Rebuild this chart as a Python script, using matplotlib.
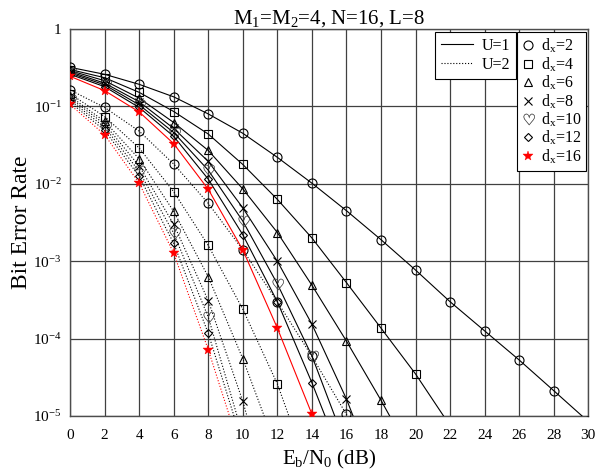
# -*- coding: utf-8 -*-
"""
BER vs Eb/N0 (M1=M2=4, N=16, L=8)
"""
import numpy as np
import matplotlib
matplotlib.use("Agg")
import matplotlib.pyplot as plt
from matplotlib.lines import Line2D
from matplotlib.path import Path
from matplotlib.textpath import TextPath
from matplotlib.font_manager import FontProperties
from matplotlib.ticker import FixedLocator, FuncFormatter

plt.rcParams['font.family'] = ['Liberation Serif', 'DejaVu Serif']
plt.rcParams['mathtext.fontset'] = 'custom'
plt.rcParams['mathtext.rm'] = 'Liberation Serif'
plt.rcParams['mathtext.it'] = 'Liberation Serif:italic'

###################################
# data
###################################
snr_db = [0, 2, 4, 6, 8, 10, 12, 14, 16, 18, 20, 22, 24, 26, 28, 30]
dx_list = [2, 4, 6, 8, 10, 12, 16]

# U=1 (solid)
u1_dx2 = [0.32, 0.26, 0.193, 0.133, 0.080, 0.045, 0.022, 0.0102, 4.5e-3, 1.9e-3,
          7.7e-4, 3.0e-4, 1.26e-4, 5.3e-5, 2.13e-5, 8.5e-6]
u1_dx4 = [0.30, 0.235, 0.152, 0.086, 0.044, 0.0178, 6.3e-3, 2.0e-3, 5.3e-4, 1.37e-4,
          3.5e-5, 7.5e-6]
u1_dx6 = [0.29, 0.215, 0.128, 0.062, 0.027, 8.6e-3, 2.35e-3, 4.9e-4, 9.3e-5, 1.6e-5,
          2.5e-6]
u1_dx8 = [0.28, 0.20, 0.115, 0.052, 0.0195, 4.9e-3, 1.0e-3, 1.54e-4, 1.66e-5, 1.2e-6]
u1_dx10 = [0.27, 0.19, 0.105, 0.046, 0.015, 3.3e-3, 5.1e-4, 6.0e-5, 4.0e-6]
u1_dx12 = [0.26, 0.18, 0.097, 0.041, 0.0115, 2.2e-3, 3.0e-4, 2.7e-5, 2.0e-6]
u1_dx16 = [0.245, 0.16, 0.085, 0.033, 0.0085, 1.4e-3, 1.37e-4, 1.06e-5, 5.0e-7]

# U=2 (dotted)
u2_dx2 = [0.163, 0.097, 0.048, 0.018, 5.6e-3, 1.4e-3, 3.0e-4, 5.9e-5, 1.05e-5, 1.6e-6]
u2_dx4 = [0.145, 0.074, 0.029, 7.9e-3, 1.6e-3, 2.4e-4, 2.6e-5, 1.5e-6]
u2_dx6 = [0.135, 0.064, 0.021, 4.4e-3, 6.3e-4, 5.5e-5, 3.5e-6]
u2_dx8 = [0.128, 0.059, 0.017, 3.0e-3, 3.1e-4, 1.55e-5, 4.0e-7]
u2_dx10 = [0.12, 0.054, 0.0145, 2.3e-3, 1.9e-4, 5.6e-6]
u2_dx12 = [0.113, 0.049, 0.0125, 1.7e-3, 1.17e-4, 4.3e-6]
u2_dx16 = [0.106, 0.043, 0.0102, 1.27e-3, 7.2e-5, 2.9e-6]

u1_list = [u1_dx2, u1_dx4, u1_dx6, u1_dx8, u1_dx10, u1_dx12, u1_dx16]
u2_list = [u2_dx2, u2_dx4, u2_dx6, u2_dx8, u2_dx10, u2_dx12, u2_dx16]


####################################
# heart marker (outline glyph, centred)
####################################
def heartMarker():
    tp = TextPath((0, 0), '\u2661', size=1, prop=FontProperties(family='DejaVu Sans'))
    v = tp.vertices.copy()
    c = (v.max(axis=0) + v.min(axis=0)) / 2
    return Path(v - c, tp.codes)


HEART = heartMarker()

# marker style for each d_x
styles = [
    dict(marker='o', ms=6.5, mfc='none', mec='k', mew=0.8, color='k'),
    dict(marker='s', ms=5.5, mfc='none', mec='k', mew=0.8, color='k'),
    dict(marker='^', ms=6.0, mfc='none', mec='k', mew=0.8, color='k'),
    dict(marker='x', ms=5.8, mfc='none', mec='k', mew=0.8, color='k'),
    dict(marker=HEART, ms=9.0, mfc='0.25', mec='0.25', mew=0.2, color='k'),
    dict(marker='D', ms=4.3, mfc='none', mec='k', mew=0.8, color='k'),
    dict(marker='*', ms=7.5, mfc='red', mec='red', mew=0.3, color='red'),
]


def fmtY(v, pos):
    e = int(round(np.log10(v)))
    if e == 0:
        return "1"
    return r"10$^{\mathrm{%d}}$" % e


####################################
# draw
####################################
def drawBER():
    fig = plt.figure(figsize=(5.99, 4.76), dpi=100)
    ax = fig.add_axes([0.117, 0.126, 0.865, 0.813])

    for i, dx in enumerate(dx_list):
        st = styles[i]
        y1 = u1_list[i]
        ax.plot(snr_db[:len(y1)], y1, linestyle='-', lw=0.8, zorder=3, **st)
        y2 = u2_list[i]
        ax.plot(snr_db[:len(y2)], y2, linestyle=':', lw=0.8, zorder=3, **st)

    ax.set_yscale('log')
    ax.set_xlim(0, 30)
    ax.set_ylim(1e-5, 1)
    ax.xaxis.set_major_locator(FixedLocator(snr_db))
    ax.yaxis.set_major_locator(FixedLocator([1e-5, 1e-4, 1e-3, 1e-2, 1e-1, 1]))
    ax.yaxis.set_minor_locator(FixedLocator([]))
    ax.yaxis.set_major_formatter(FuncFormatter(fmtY))
    ax.tick_params(length=0, labelsize=11)
    ax.tick_params(axis='x', pad=9)
    ax.tick_params(axis='y', pad=6)
    ax.grid(True, color='0.25', lw=0.9)
    for s in ax.spines.values():
        s.set_color('0.3')
        s.set_linewidth(1.0)

    ax.set_title(r"M$_\mathrm{1}$=M$_\mathrm{2}$=4, N=16, L=8", fontsize=15, pad=3)
    ax.set_xlabel(r"E$_\mathrm{b}$/N$_\mathrm{0}$ (dB)", fontsize=15, labelpad=5)
    ax.set_ylabel("Bit Error Rate", fontsize=17, labelpad=1)

    # legend of line styles
    h1 = [Line2D([], [], color='k', lw=0.8, ls='-'),
          Line2D([], [], color='k', lw=0.8, ls=':')]
    leg1 = ax.legend(h1, ["U=1", "U=2"], loc='upper right',
                     bbox_to_anchor=(0.861, 0.992), borderaxespad=0,
                     fontsize=11.5, fancybox=False, framealpha=1,
                     edgecolor='k', handlelength=2.0, handletextpad=0.6,
                     labelspacing=0.2, borderpad=0.35)
    leg1.get_frame().set_linewidth(0.8)
    ax.add_artist(leg1)

    # legend of markers
    h2 = [Line2D([], [], ls='none', **styles[i]) for i in range(len(dx_list))]
    lab2 = [r"d$_\mathrm{x}$=%d" % dx for dx in dx_list]
    leg2 = ax.legend(h2, lab2, loc='upper right',
                     bbox_to_anchor=(0.996, 0.992), borderaxespad=0,
                     fontsize=11.5, fancybox=False, framealpha=1,
                     edgecolor='k', handlelength=0.8, handletextpad=0.4,
                     labelspacing=0.0, borderpad=0.3)
    leg2.get_frame().set_linewidth(0.8)

    fig.savefig("out.png", dpi=100)


if __name__ == "__main__":
    drawBER()
